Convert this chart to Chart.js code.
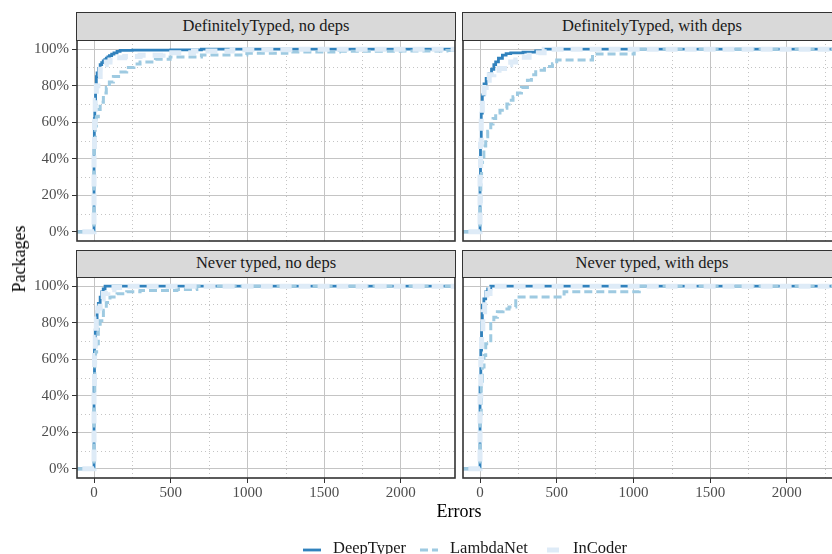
<!DOCTYPE html>
<html>
<head>
<meta charset="utf-8">
<script src="https://cdn.jsdelivr.net/npm/chart.js@4.4.1/dist/chart.umd.min.js"></script>
<style>
html,body{margin:0;padding:0;width:832px;height:554px;overflow:hidden;background:#fff;}
#root{position:relative;width:870px;height:580px;font-family:"Liberation Serif","DejaVu Serif",serif;}
canvas{position:absolute;}
.strip{position:absolute;box-sizing:border-box;background:#d9d9d9;border:1.5px solid #333;color:#1a1a1a;font-size:16.5px;text-align:center;z-index:2;white-space:nowrap;}
.title{position:absolute;font-size:18px;color:#000;line-height:20px;white-space:nowrap;}
.leg{position:absolute;font-size:16.5px;color:#1a1a1a;line-height:20px;white-space:nowrap;}
svg{position:absolute;}
</style>
</head>
<body>
<div id="root"></div>
<script>
// ---------------- data ----------------
const seriesNames = ["DeepTyper", "LambdaNet", "InCoder"];
const panelTitles = ["DefinitelyTyped, no deps", "DefinitelyTyped, with deps", "Never typed, no deps", "Never typed, with deps"];
const xTicks = [0, 500, 1000, 1500, 2000];
const xTickLabels = ["0", "500", "1000", "1500", "2000"];
const xMinor = [250, 750, 1250, 1750, 2250];
const yTicks = [0, 20, 40, 60, 80, 100];
const yTickLabels = ["0%", "20%", "40%", "60%", "80%", "100%"];
const yMinor = [10, 30, 50, 70, 90];
const xTitle = "Errors";
const yTitle = "Packages";

// ECDF steps: [errors, cumulative % of packages]; first/last points are the -Inf/+Inf padding
const dtNoDepsDeepTyper = [[-200,0],[0,45],[2,62],[5,72],[10,80],[15,85],[20,87],[30,89.5],[40,91.5],[50,92.6],[60,93.5],[70,94.3],[80,95],[90,95.8],[100,96.5],[115,97.3],[130,98],[150,98.8],[170,99.3],[250,99.5],[500,99.6],[700,100],[3000,100]];
const dtNoDepsLambdaNet = [[-200,0],[0,35],[3,50],[8,58],[15,63],[28,67],[40,71],[61,76],[80,79],[100,82],[126,85],[160,87.5],[213,90],[260,91.8],[300,93],[400,94.5],[496,95.7],[700,96.8],[996,97.7],[1257,98.5],[1600,98.8],[2000,99],[2300,99.2],[2600,100],[3000,100]];
const dtNoDepsInCoder = [[-200,0],[0,42],[3,60],[8,72],[15,80],[25,85],[40,89],[60,91.5],[80,93],[104,94],[150,95.3],[200,96],[300,96.7],[450,98],[648,99],[900,99.6],[1300,100],[3000,100]];

const dtDepsDeepTyper = [[-200,0],[0,30],[3,50],[8,65],[15,75],[26,81],[40,84],[59,86.6],[75,89],[90,91.5],[102,93],[120,95],[146,96.7],[170,97.5],[200,97.9],[280,98.4],[363,99],[418,100],[3000,100]];
const dtDepsLambdaNet = [[-200,0],[0,15],[5,30],[10,38],[15,41],[25,47],[37,52],[50,55],[70,59],[85,62],[102,65],[130,66.5],[157,67.6],[175,70],[189,72],[215,74],[244,76],[270,79],[309,83],[335,86],[363,88.5],[420,90.5],[472,92],[500,94],[733,97.3],[1005,100],[3000,100]];
const dtDepsInCoder = [[-200,0],[0,30],[3,48],[8,62],[15,73],[26,79],[40,83],[60,86],[90,88.5],[124,89.4],[160,91.5],[200,93],[233,94],[270,95.5],[320,96.7],[380,98],[418,100],[3000,100]];

const ntNoDepsDeepTyper = [[-200,0],[0,50],[3,68],[8,76],[13,79.5],[20,86],[28,90.5],[40,94],[50,96.9],[60,98.5],[72,100],[3000,100]];
const ntNoDepsLambdaNet = [[-200,0],[0,40],[5,58],[10,64],[17,68.5],[28,77.6],[40,81],[61,86.8],[80,91],[104,94],[150,95.8],[213,96.9],[300,97.6],[540,98.2],[670,100],[3000,100]];
const ntNoDepsInCoder = [[-200,0],[0,45],[3,62],[8,72],[15,82],[25,88],[40,93],[60,96],[90,98],[130,99.2],[200,100],[3000,100]];

const ntDepsDeepTyper = [[-200,0],[0,45],[5,65],[10,80],[15,89.6],[25,93],[37,96.9],[50,98.5],[70,100],[3000,100]];
const ntDepsLambdaNet = [[-200,0],[0,30],[8,48],[15,55.7],[26,62],[37,68.5],[70,79.5],[90,83],[113,86],[150,87.5],[189,88.6],[233,94],[548,96.9],[1038,100],[3000,100]];
const ntDepsInCoder = [[-200,0],[0,40],[5,60],[10,75],[18,86],[30,92],[45,96],[65,98.5],[90,100],[3000,100]];

const panelData = [
  [dtNoDepsDeepTyper, dtNoDepsLambdaNet, dtNoDepsInCoder],
  [dtDepsDeepTyper, dtDepsLambdaNet, dtDepsInCoder],
  [ntNoDepsDeepTyper, ntNoDepsLambdaNet, ntNoDepsInCoder],
  [ntDepsDeepTyper, ntDepsLambdaNet, ntDepsInCoder]
];

// ---------------- styles ----------------
const seriesColors = ["#3182bd", "#9ecae1", "#deebf7"];
const seriesWidths = [2.8, 3, 5];
const seriesDash = [[], [8, 4], [12, 7]];
const seriesOrder = [2, 1, 0]; // InCoder drawn on top
const FONT = '"Liberation Serif", "DejaVu Serif", serif';

const cols = [{left: 77, right: 455}, {left: 463, right: 841}];
const rows = [{strip: 12, top: 40, bottom: 241}, {strip: 249.5, top: 277, bottom: 478}];
const X_MIN = -111, X_MAX = 2353, Y_MIN = -5, Y_MAX = 105;

const root = document.getElementById('root');

const panelPlugin = {
  id: 'panelDecor',
  beforeDatasetsDraw(chart) {
    const {ctx, chartArea: a, scales} = chart;
    const x = scales.x, y = scales.y;
    ctx.save();
    ctx.beginPath();
    ctx.rect(a.left, a.top, a.right - a.left, a.bottom - a.top);
    ctx.clip();
    ctx.strokeStyle = '#c4c4c4';
    ctx.lineWidth = 1;
    ctx.setLineDash([1, 3]);
    xMinor.forEach(v => {
      const px = Math.round(x.getPixelForValue(v)) + 0.5;
      ctx.beginPath(); ctx.moveTo(px, a.top); ctx.lineTo(px, a.bottom); ctx.stroke();
    });
    yMinor.forEach(v => {
      const py = Math.round(y.getPixelForValue(v)) + 0.5;
      ctx.beginPath(); ctx.moveTo(a.left, py); ctx.lineTo(a.right, py); ctx.stroke();
    });
    ctx.restore();
  },
  afterDraw(chart) {
    const {ctx, chartArea: a} = chart;
    ctx.save();
    ctx.strokeStyle = '#333333';
    ctx.lineWidth = 1.6;
    ctx.strokeRect(a.left, a.top, a.right - a.left, a.bottom - a.top);
    ctx.restore();
  }
};

function makePanel(idx) {
  const r = Math.floor(idx / 2), c = idx % 2;
  const col = cols[c], row = rows[r];
  const padL = 70, padR = 10, padT = 10;
  const yW = c === 0 ? 70 : 0;
  const xH = r === 1 ? 30 : 0;
  const padB = r === 1 ? 30 : 10;
  const left = col.left - padL, top = row.top - padT;
  const w = (col.right - col.left) + padL + padR;
  const h = (row.bottom - row.top) + padT + padB;

  const s = document.createElement('div');
  s.className = 'strip';
  s.style.left = (col.left - 0.75) + 'px';
  s.style.top = row.strip + 'px';
  s.style.width = (col.right - col.left + 1.5) + 'px';
  s.style.height = (row.top - row.strip + 0.75) + 'px';
  s.style.lineHeight = (row.top - row.strip - 3) + 'px';
  s.textContent = panelTitles[idx];
  root.appendChild(s);

  const cv = document.createElement('canvas');
  cv.width = w; cv.height = h;
  cv.style.left = left + 'px'; cv.style.top = top + 'px';
  cv.style.width = w + 'px'; cv.style.height = h + 'px';
  root.appendChild(cv);

  const datasets = panelData[idx].map((pts, i) => ({
    label: seriesNames[i],
    data: pts.map(p => ({x: p[0], y: p[1]})),
    borderColor: seriesColors[i],
    backgroundColor: seriesColors[i],
    borderWidth: seriesWidths[i],
    borderDash: seriesDash[i],
    borderCapStyle: 'butt',
    borderJoinStyle: 'miter',
    stepped: 'before',
    pointRadius: 0,
    fill: false,
    tension: 0,
    order: seriesOrder[i],
    clip: 0
  }));

  new Chart(cv, {
    type: 'line',
    data: {datasets},
    options: {
      responsive: false,
      animation: false,
      devicePixelRatio: 1,
      events: [],
      layout: {padding: {left: padL - yW, right: padR, top: padT, bottom: padB - xH}},
      plugins: {legend: {display: false}, tooltip: {enabled: false}},
      scales: {
        x: {
          type: 'linear',
          min: X_MIN, max: X_MAX,
          afterBuildTicks: (ax) => { ax.ticks = xTicks.map(v => ({value: v})); },
          afterFit: (ax) => { ax.height = xH; ax.paddingLeft = 0; ax.paddingRight = 0; ax.paddingTop = 0; ax.paddingBottom = 0; },
          border: {display: false},
          grid: {color: '#c4c4c4', lineWidth: 1, drawTicks: r === 1, tickLength: 5, tickColor: '#333333', tickWidth: 1},
          ticks: {
            display: r === 1,
            padding: 1,
            maxRotation: 0,
            autoSkip: false,
            color: '#4d4d4d',
            font: {family: FONT, size: 15},
            callback: (v) => xTickLabels[xTicks.indexOf(v)]
          }
        },
        y: {
          type: 'linear',
          min: Y_MIN, max: Y_MAX,
          afterBuildTicks: (ax) => { ax.ticks = yTicks.map(v => ({value: v})); },
          afterFit: (ax) => { ax.width = yW; ax.paddingLeft = 0; ax.paddingRight = 0; ax.paddingTop = 0; ax.paddingBottom = 0; },
          border: {display: false},
          grid: {color: '#c4c4c4', lineWidth: 1, drawTicks: c === 0, tickLength: 5, tickColor: '#333333', tickWidth: 1},
          ticks: {
            display: c === 0,
            padding: 3,
            autoSkip: false,
            color: '#4d4d4d',
            font: {family: FONT, size: 15},
            callback: (v) => yTickLabels[yTicks.indexOf(v)]
          }
        }
      }
    },
    plugins: [panelPlugin]
  });
}

for (let i = 0; i < 4; i++) makePanel(i);

const xt = document.createElement('div');
xt.className = 'title';
xt.textContent = xTitle;
xt.style.left = '459px'; xt.style.top = '501px';
xt.style.transform = 'translateX(-50%)';
root.appendChild(xt);

const yt = document.createElement('div');
yt.className = 'title';
yt.textContent = yTitle;
yt.style.left = '19px'; yt.style.top = '259px';
yt.style.transform = 'translate(-50%,-50%) rotate(-90deg)';
root.appendChild(yt);

const legendPos = [{line: 303, text: 333}, {line: 420, text: 450}, {line: 547, text: 573}];
seriesNames.forEach((name, i) => {
  const svgNS = 'http://www.w3.org/2000/svg';
  const svg = document.createElementNS(svgNS, 'svg');
  svg.setAttribute('width', '20'); svg.setAttribute('height', '10');
  svg.style.left = legendPos[i].line + 'px'; svg.style.top = '545px';
  const ln = document.createElementNS(svgNS, 'line');
  ln.setAttribute('x1', '0'); ln.setAttribute('x2', '18');
  ln.setAttribute('y1', '5'); ln.setAttribute('y2', '5');
  ln.setAttribute('stroke', seriesColors[i]);
  ln.setAttribute('stroke-width', String(seriesWidths[i]));
  if (seriesDash[i].length) ln.setAttribute('stroke-dasharray', seriesDash[i].join(' '));
  svg.appendChild(ln);
  root.appendChild(svg);
  const t = document.createElement('div');
  t.className = 'leg';
  t.textContent = name;
  t.style.left = legendPos[i].text + 'px'; t.style.top = '538px';
  root.appendChild(t);
});
</script>
</body>
</html>
